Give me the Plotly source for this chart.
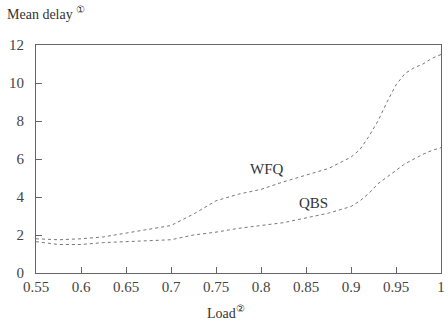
import plotly.graph_objects as go

load = [0.55, 0.575, 0.6, 0.625, 0.65, 0.675, 0.7, 0.725, 0.75, 0.775, 0.8, 0.825,
        0.85, 0.875, 0.9, 0.91, 0.92, 0.93, 0.94, 0.95, 0.96, 0.97, 0.98, 0.99, 1.0]
wfq = [1.8, 1.75, 1.8, 1.9, 2.1, 2.3, 2.5, 3.1, 3.8, 4.15, 4.4, 4.8,
       5.15, 5.5, 6.1, 6.5, 7.2, 8.0, 9.0, 9.9, 10.5, 10.8, 11.0, 11.3, 11.5]
qbs = [1.65, 1.5, 1.5, 1.6, 1.65, 1.7, 1.75, 2.0, 2.15, 2.35, 2.5, 2.65,
       2.9, 3.15, 3.5, 3.8, 4.2, 4.7, 5.05, 5.4, 5.75, 6.0, 6.25, 6.45, 6.6]
x_ticks = [0.55, 0.6, 0.65, 0.7, 0.75, 0.8, 0.85, 0.9, 0.95, 1.0]
x_tick_labels = ["0.55", "0.6", "0.65", "0.7", "0.75", "0.8", "0.85", "0.9", "0.95", "1"]
y_ticks = [0, 2, 4, 6, 8, 10, 12]

font = "Liberation Serif, DejaVu Serif, serif"
line_col = "#666666"

fig = go.Figure()
fig.add_trace(go.Scatter(x=load, y=wfq, mode="lines", name="WFQ",
                         line=dict(color="#777777", width=1, dash="dot")))
fig.add_trace(go.Scatter(x=load, y=qbs, mode="lines", name="QBS",
                         line=dict(color="#777777", width=1, dash="dot")))

fig.add_annotation(x=0.807, y=5.5, text="WFQ", showarrow=False,
                   font=dict(family=font, size=15, color="#333"))
fig.add_annotation(x=0.858, y=3.7, text="QBS", showarrow=False,
                   font=dict(family=font, size=15, color="#333"))
fig.add_annotation(x=-0.077, y=1.14, xref="paper", yref="paper", xanchor="left",
                   yanchor="middle", text="Mean delay <sup>①</sup>", showarrow=False,
                   font=dict(family=font, size=14, color="#333"))
fig.add_annotation(x=0.47, y=-0.17, xref="paper", yref="paper", yanchor="middle",
                   text="Load<sup>②</sup>", showarrow=False,
                   font=dict(family=font, size=14, color="#333"))

fig.update_layout(
    width=448, height=325,
    margin=dict(l=36, r=3, t=45, b=52),
    paper_bgcolor="white", plot_bgcolor="white",
    showlegend=False,
    font=dict(family=font, size=15, color="#444"),
)
fig.update_xaxes(range=[0.55, 1.0], tickmode="array", tickvals=x_ticks, ticktext=x_tick_labels,
                 ticklabeloverflow="allow",
                 showgrid=False, zeroline=False,
                 showline=True, linecolor=line_col, linewidth=1, mirror=True,
                 ticks="inside", ticklen=6, tickcolor=line_col)
fig.update_yaxes(range=[0, 12], tickvals=y_ticks, showgrid=False, zeroline=False,
                 showline=True, linecolor=line_col, linewidth=1, mirror=True,
                 ticks="inside", ticklen=6, tickcolor=line_col, ticklabelstandoff=8)

fig.write_html("out.html", config={"displayModeBar": False},
               post_script="document.body.style.margin='0';document.body.style.overflow='hidden';")
